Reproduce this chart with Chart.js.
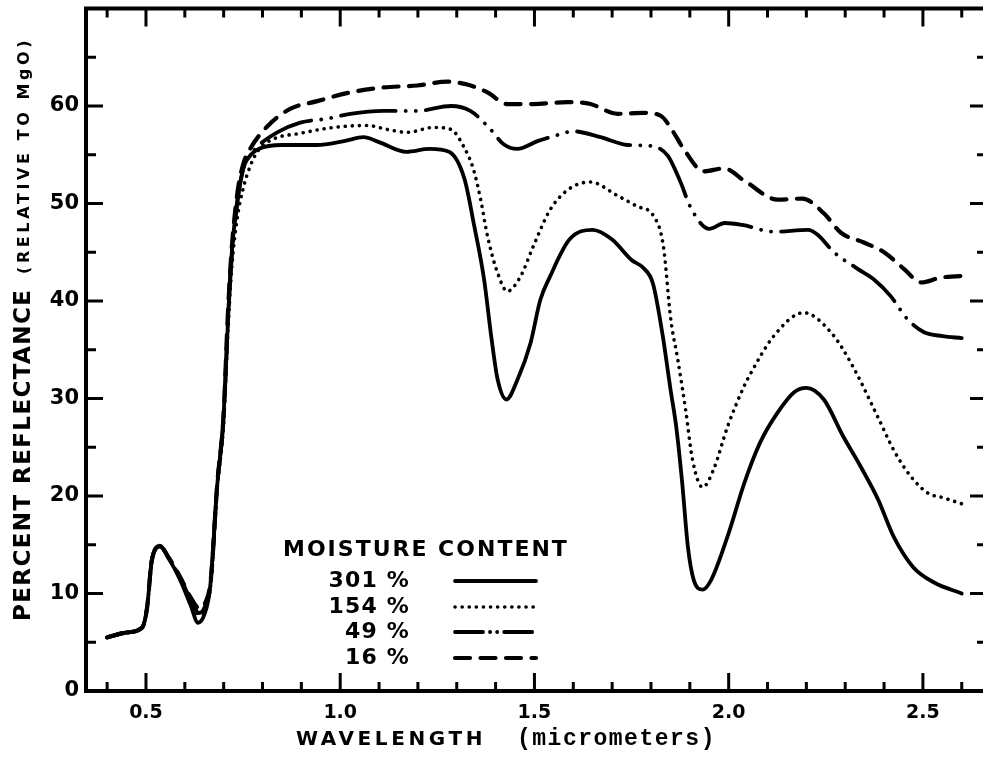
<!DOCTYPE html>
<html>
<head>
<meta charset="utf-8">
<script src="https://cdn.jsdelivr.net/npm/chart.js@4.4.1/dist/chart.umd.min.js"></script>
<style>
  html, body { margin: 0; padding: 0; background: #fff; overflow: hidden; }
  #wrap { position: relative; width: 1000px; height: 763px; }
</style>
</head>
<body>
<div id="wrap"><canvas id="chart"></canvas></div>
<script>
// Reflectance curves: wavelength (micrometers) vs percent reflectance.
const wl301 = [0.40, 0.45, 0.49, 0.503, 0.515, 0.536, 0.56, 0.588, 0.615, 0.634, 0.65, 0.665, 0.683, 0.699, 0.71, 0.716, 0.729, 0.75, 0.77, 0.79, 0.85, 0.94, 1.01, 1.06, 1.10, 1.17, 1.23, 1.28, 1.32, 1.345, 1.37, 1.39, 1.405, 1.428, 1.456, 1.49, 1.515, 1.54, 1.59, 1.65, 1.70, 1.75, 1.78, 1.805, 1.83, 1.85, 1.865, 1.88, 1.895, 1.91, 1.933, 1.955, 2.00, 2.04, 2.08, 2.125, 2.17, 2.20, 2.245, 2.295, 2.34, 2.385, 2.425, 2.475, 2.53, 2.60];
const refl301 = [5.5, 6.0, 6.5, 8.6, 13.4, 14.9, 13.5, 11.4, 8.8, 7.0, 7.8, 10.6, 20.9, 27.8, 37.0, 42.2, 48.4, 53.5, 55.0, 55.6, 56.0, 56.0, 56.4, 56.8, 56.3, 55.3, 55.6, 55.3, 52.5, 47.7, 42.3, 36.0, 32.0, 29.9, 31.9, 35.7, 40.1, 42.5, 46.3, 47.3, 46.3, 44.2, 43.4, 41.8, 36.5, 31.0, 27.1, 21.5, 14.8, 11.4, 10.4, 11.4, 16.2, 21.3, 25.4, 28.5, 30.7, 31.1, 29.9, 26.1, 23.0, 19.6, 15.8, 12.7, 11.1, 10.0];

const wl154 = [0.40, 0.45, 0.49, 0.503, 0.515, 0.536, 0.56, 0.588, 0.615, 0.637, 0.652, 0.667, 0.683, 0.70, 0.71, 0.72, 0.735, 0.75, 0.768, 0.79, 0.827, 0.897, 0.982, 1.07, 1.121, 1.173, 1.24, 1.285, 1.317, 1.343, 1.361, 1.38, 1.405, 1.43, 1.464, 1.497, 1.541, 1.593, 1.644, 1.714, 1.765, 1.807, 1.832, 1.851, 1.869, 1.889, 1.907, 1.933, 1.961, 1.997, 2.039, 2.057, 2.116, 2.193, 2.263, 2.314, 2.384, 2.425, 2.469, 2.513, 2.554, 2.60];
const refl154 = [5.5, 6.0, 6.5, 8.6, 13.4, 14.8, 13.5, 11.5, 9.2, 7.8, 8.5, 11.0, 20.5, 27.5, 36.0, 43.0, 48.5, 51.5, 53.8, 55.5, 56.6, 57.2, 57.8, 58.0, 57.6, 57.3, 57.8, 57.6, 55.9, 53.5, 50.5, 46.5, 42.9, 41.0, 42.5, 45.6, 49.4, 51.6, 52.2, 50.8, 49.7, 48.7, 45.6, 38.1, 34.0, 28.9, 23.7, 20.9, 22.7, 27.1, 31.2, 32.6, 36.4, 38.8, 36.8, 33.7, 28.1, 24.7, 22.0, 20.3, 19.8, 19.2];

const wl49 = [0.40, 0.45, 0.49, 0.503, 0.515, 0.536, 0.56, 0.588, 0.615, 0.637, 0.652, 0.667, 0.683, 0.70, 0.71, 0.72, 0.735, 0.75, 0.77, 0.786, 0.838, 0.897, 0.966, 1.026, 1.111, 1.198, 1.285, 1.335, 1.387, 1.42, 1.456, 1.508, 1.549, 1.601, 1.67, 1.74, 1.80, 1.843, 1.876, 1.902, 1.95, 1.99, 2.035, 2.116, 2.204, 2.229, 2.271, 2.332, 2.374, 2.417, 2.461, 2.503, 2.55, 2.60];
const refl49 = [5.5, 6.0, 6.5, 8.6, 13.4, 14.8, 13.5, 11.6, 9.4, 8.0, 8.7, 11.2, 21.0, 28.0, 37.0, 44.0, 50.0, 53.5, 55.0, 55.8, 57.3, 58.3, 58.7, 59.2, 59.5, 59.5, 60.0, 59.5, 57.6, 56.1, 55.6, 56.4, 56.9, 57.4, 56.8, 56.0, 55.9, 54.9, 52.2, 49.6, 47.4, 48.0, 47.8, 47.1, 47.3, 46.8, 45.0, 43.3, 42.2, 40.5, 38.1, 36.8, 36.4, 36.2];

const wl16 = [0.40, 0.45, 0.49, 0.503, 0.515, 0.536, 0.56, 0.588, 0.615, 0.637, 0.652, 0.667, 0.683, 0.70, 0.71, 0.72, 0.735, 0.75, 0.768, 0.812, 0.871, 0.941, 1.026, 1.111, 1.198, 1.276, 1.327, 1.379, 1.43, 1.497, 1.585, 1.644, 1.714, 1.781, 1.825, 1.858, 1.884, 1.936, 1.987, 2.045, 2.126, 2.19, 2.245, 2.289, 2.348, 2.40, 2.451, 2.495, 2.546, 2.62];
const refl16 = [5.5, 6.0, 6.5, 8.6, 13.4, 14.8, 13.6, 11.7, 9.6, 8.5, 9.0, 11.5, 21.0, 28.5, 38.0, 45.0, 51.0, 54.0, 55.6, 57.9, 59.7, 60.5, 61.4, 61.9, 62.1, 62.5, 62.2, 61.4, 60.2, 60.2, 60.4, 60.2, 59.2, 59.3, 59.0, 57.3, 55.6, 53.3, 53.6, 52.2, 50.4, 50.5, 49.0, 47.0, 46.0, 45.0, 43.3, 41.9, 42.4, 42.6];

const seriesLabels = ['301 %', '154 %', '49 %', '16 %'];
const legendTitle = 'MOISTURE CONTENT';

const xTickValues = [0.4, 0.5, 0.6, 0.7, 0.8, 0.9, 1.0, 1.1, 1.2, 1.3, 1.4, 1.5, 1.6, 1.7, 1.8, 1.9, 2.0, 2.1, 2.2, 2.3, 2.4, 2.5, 2.6];
const xTickLabels = ['0.5', '1.0', '1.5', '2.0', '2.5'];
const yTickValues = [0, 5, 10, 15, 20, 25, 30, 35, 40, 45, 50, 55, 60, 65];
const yTickLabels = ['0', '10', '20', '30', '40', '50', '60'];

const xTitle = 'WAVELENGTH';
const xTitleUnit = '(micrometers)';
const yTitle = 'PERCENT REFLECTANCE';
const yTitleNote = '(RELATIVE TO MgO)';

const INK = '#000';
const pts = (xs, ys) => xs.map((x, i) => ({ x, y: ys[i] }));
const isMajorX = (v) => xTickLabels.includes(v.toFixed(1));

// ticks on this plot point into the frame on all four sides
const inwardTicks = {
  id: 'inwardTicks',
  afterDraw(chart) {
    const { ctx, chartArea: a, scales: { x, y } } = chart;
    ctx.save();
    ctx.strokeStyle = INK;
    ctx.lineWidth = 3;
    ctx.beginPath();
    xTickValues.forEach(v => {
      const px = x.getPixelForValue(v);
      const len = isMajorX(v) ? 18 : 9;
      ctx.moveTo(px, a.bottom); ctx.lineTo(px, a.bottom - len);
      ctx.moveTo(px, a.top); ctx.lineTo(px, a.top + len);
    });
    yTickValues.forEach(v => {
      if (v === 0) return;
      const py = y.getPixelForValue(v);
      const len = v % 10 === 0 ? 17 : 10;
      ctx.moveTo(a.left, py); ctx.lineTo(a.left + len, py);
      ctx.moveTo(a.right, py); ctx.lineTo(a.right - len, py);
    });
    ctx.stroke();
    ctx.lineWidth = 4;
    ctx.beginPath();
    ctx.moveTo(a.left - 2, a.top); ctx.lineTo(a.right, a.top); ctx.lineTo(a.right, a.bottom);
    ctx.stroke();
    ctx.restore();
  }
};

const axisTitles = {
  id: 'axisTitles',
  afterDraw(chart) {
    const ctx = chart.ctx;
    ctx.save();
    ctx.fillStyle = INK;
    ctx.textBaseline = 'alphabetic';
    ctx.textAlign = 'left';
    ctx.font = 'bold 20px "DejaVu Sans"';
    ctx.letterSpacing = '3.6px';
    ctx.fillText(xTitle, 296, 745);
    ctx.font = 'bold 23px "Liberation Mono"';
    ctx.letterSpacing = '1.5px';
    ctx.fillText(xTitleUnit, 517, 745);

    ctx.translate(30, 621);
    ctx.rotate(-Math.PI / 2);
    ctx.font = 'bold 23px "DejaVu Sans"';
    ctx.letterSpacing = '1.4px';
    ctx.fillText(yTitle, 0, 0);
    ctx.font = 'bold 16px "DejaVu Sans"';
    ctx.letterSpacing = '3.6px';
    ctx.fillText(yTitleNote, 347, -1);
    ctx.restore();
  }
};

const moistureLegend = {
  id: 'moistureLegend',
  afterDraw(chart) {
    const ctx = chart.ctx;
    const rowY = [581, 607, 632, 658];
    ctx.save();
    ctx.fillStyle = INK;
    ctx.textBaseline = 'middle';
    ctx.font = 'bold 22px "DejaVu Sans"';
    ctx.letterSpacing = '2px';
    ctx.textAlign = 'left';
    ctx.fillText(legendTitle, 283, 550);
    ctx.letterSpacing = '1.2px';
    ctx.textAlign = 'right';
    chart.data.datasets.forEach((ds, i) => {
      ctx.fillText(ds.label, 410, rowY[i]);
      ctx.save();
      ctx.strokeStyle = ds.borderColor;
      ctx.lineWidth = ds.borderWidth;
      ctx.lineCap = ds.borderCapStyle || 'butt';
      ctx.setLineDash(ds.legendDash || ds.borderDash || []);
      ctx.beginPath();
      ctx.moveTo(455, rowY[i]);
      ctx.lineTo(536, rowY[i]);
      ctx.stroke();
      ctx.restore();
    });
    ctx.restore();
  }
};

const lineBase = {
  borderColor: INK,
  pointRadius: 0,
  fill: false,
  cubicInterpolationMode: 'monotone',
  borderJoinStyle: 'round'
};

new Chart(document.getElementById('chart'), {
  type: 'line',
  data: {
    datasets: [
      { ...lineBase, label: seriesLabels[0], data: pts(wl301, refl301), borderWidth: 3.8, borderCapStyle: 'round' },
      { ...lineBase, label: seriesLabels[1], data: pts(wl154, refl154), borderWidth: 3.6, borderCapStyle: 'round', borderDash: [0.1, 7] },
      { ...lineBase, label: seriesLabels[2], data: pts(wl49, refl49), borderWidth: 3.8, borderCapStyle: 'round',
        borderDash: [55, 10, 0.1, 10, 0.1, 10], legendDash: [28, 7, 0.1, 7, 0.1, 7] },
      { ...lineBase, label: seriesLabels[3], data: pts(wl16, refl16), borderWidth: 4.2, borderCapStyle: 'round', borderDash: [15, 10.5] }
    ]
  },
  options: {
    responsive: true,
    maintainAspectRatio: false,
    animation: false,
    devicePixelRatio: 1,
    layout: { padding: { top: 8.5, right: 13, left: 0, bottom: 0 } },
    plugins: { legend: { display: false }, tooltip: { enabled: false } },
    scales: {
      x: {
        type: 'linear',
        min: 0.3456,
        max: 2.665,
        afterBuildTicks: (s) => { s.ticks = xTickValues.map(v => ({ value: v })); },
        afterFit: (s) => { s.height = 72; s.paddingLeft = 0; s.paddingRight = 0; },
        grid: { display: false, drawTicks: false },
        border: { display: true, color: INK, width: 4 },
        ticks: {
          color: INK,
          padding: 11,
          maxRotation: 0,
          autoSkip: false,
          font: { family: '"DejaVu Sans"', size: 19, weight: 'bold' },
          callback: (v) => (isMajorX(Number(v)) ? Number(v).toFixed(1) : '')
        }
      },
      y: {
        min: 0,
        max: 70,
        afterBuildTicks: (s) => { s.ticks = yTickValues.map(v => ({ value: v })); },
        afterFit: (s) => { s.width = 86; s.paddingTop = 0; s.paddingBottom = 0; },
        grid: { display: false, drawTicks: false },
        border: { display: true, color: INK, width: 4 },
        ticks: {
          color: INK,
          padding: 7,
          autoSkip: false,
          font: { family: '"DejaVu Sans"', size: 21, weight: 'bold' },
          callback: (v) => (yTickLabels.includes(String(v)) ? String(v) : '')
        }
      }
    }
  },
  plugins: [inwardTicks, axisTitles, moistureLegend]
});
</script>
</body>
</html>
